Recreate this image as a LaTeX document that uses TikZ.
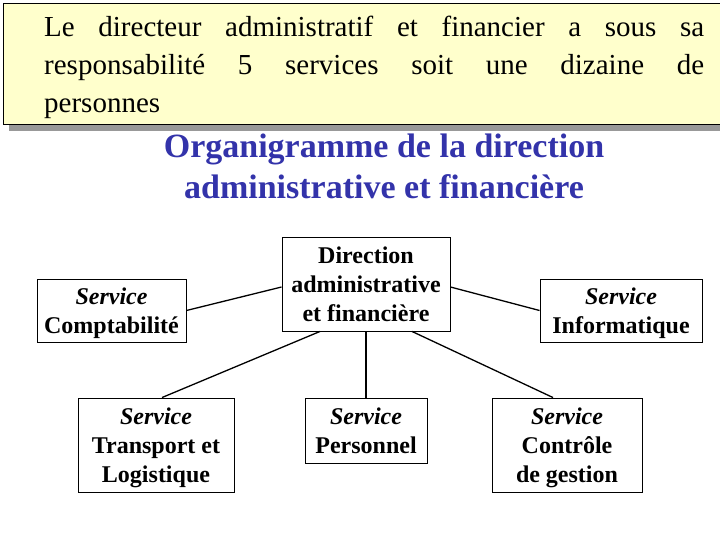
\documentclass[tikz,border=0pt]{standalone}
\usepackage{fontspec}
\setmainfont{Liberation Serif}
\usetikzlibrary{positioning,calc}

\definecolor{notefill}{RGB}{255,255,204}
\definecolor{noteshadow}{RGB}{153,153,153}
\definecolor{titleblue}{RGB}{51,51,170}

\tikzset{
  svcbox/.style={draw, line width=0.9pt, align=center, inner sep=2pt,
    text depth=0pt, font=\fontsize{24}{29}\selectfont\bfseries},
  link/.style={line width=1.3pt}
}
\newcommand{\svc}{\textit{Service}}

\begin{document}
\begin{tikzpicture}[x=1pt,y=-1pt]
\useasboundingbox (0,0) rectangle (720,540);
% note box with shadow
\fill[noteshadow] (9,9) rectangle (726,131);
\draw[fill=notefill, line width=0.8pt] (3,3) rectangle (724,124);
\node[anchor=north west, inner sep=0pt, text width=660pt, align=justify,
  font=\fontsize{29}{38}\selectfont] (note) at (44,16)
  {Le directeur administratif et financier a sous sa\linebreak responsabilité 5 services soit une dizaine de\linebreak personnes};
% title
\node[align=center, text=titleblue, font=\fontsize{34}{41}\selectfont\bfseries] (title) at (384,166)
  {Organigramme de la direction\\administrative et financière};
% boxes
\node[svcbox, minimum width=168pt, minimum height=94pt] (dir) at (366,284)
  {Direction\\administrative\\et financière};
\node[svcbox, minimum width=149pt, minimum height=63pt] (compta) at (111.5,310.5)
  {\svc\\Comptabilité};
\node[svcbox, minimum width=162pt, minimum height=63pt] (info) at (621,310.5)
  {\svc\\Informatique};
\node[svcbox, minimum width=156pt, minimum height=94pt] (trans) at (156,445)
  {\svc\\Transport et\\Logistique};
\node[svcbox, minimum width=122pt, minimum height=65pt] (pers) at (366,430.5)
  {\svc\\Personnel};
\node[svcbox, minimum width=150pt, minimum height=94pt] (ctrl) at (567,445)
  {\svc\\Contrôle\\de gestion};
% links
\draw[link] (compta.east) -- ([yshift=-3pt]dir.west);
\draw[link] ([yshift=-3pt]dir.east) -- (info.west);
\draw[link] ([xshift=-46pt]dir.south) -- ([xshift=6pt]trans.north);
\draw[link] (dir.south) -- (pers.north);
\draw[link] ([xshift=46pt]dir.south) -- ([xshift=-14pt]ctrl.north);
\end{tikzpicture}
\end{document}
